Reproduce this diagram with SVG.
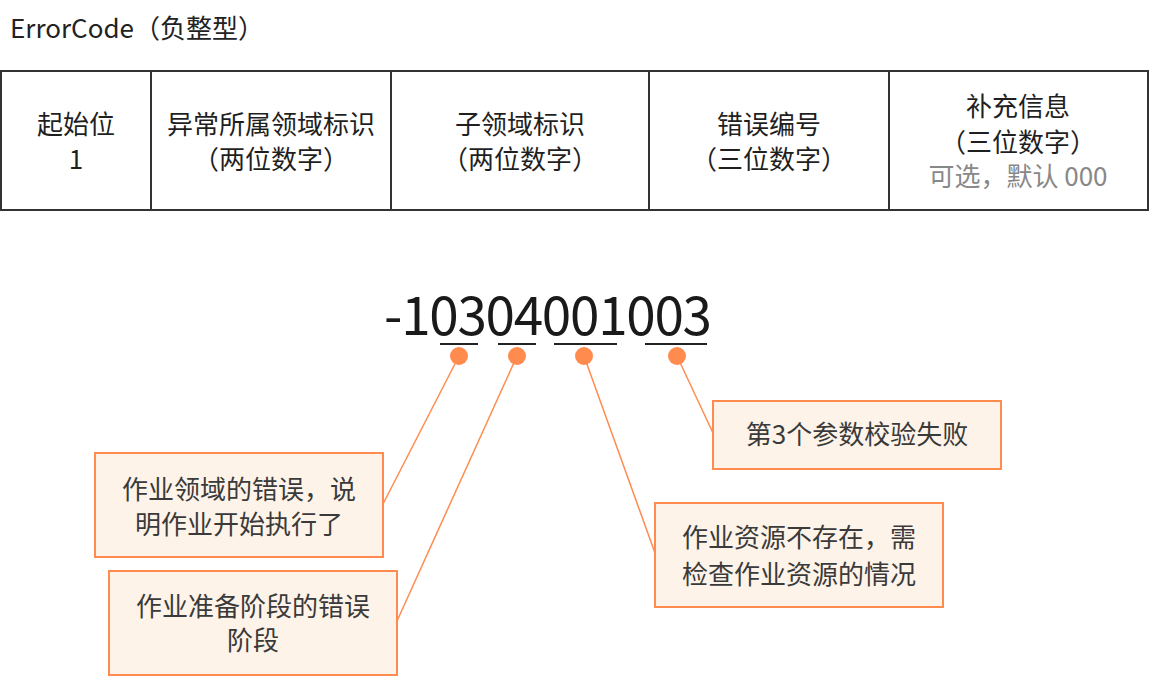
<svg xmlns="http://www.w3.org/2000/svg" width="1152" height="686" viewBox="0 0 1152 686">
<style>
text{font-family:"Noto Sans CJK SC","Noto Sans",sans-serif;font-weight:400;}
.title{font-size:26px;fill:#222;}
.cell{font-size:26px;fill:#1f1f1f;text-anchor:middle;}
.gray{fill:#888;}
.tbl{fill:none;stroke:#333;stroke-width:2;}
.num{font-size:53px;fill:#1a1a1a;}
.ul{stroke:#222;stroke-width:2;}
.dot{fill:#FF8B4F;}
.conn{stroke:#FF8B4F;stroke-width:1.5;fill:none;}
.box{fill:#FEF3E8;stroke:#FF8B4F;stroke-width:2;}
.note{font-size:26px;fill:#3a3a3a;text-anchor:middle;}
</style>
<rect width="1152" height="686" fill="#fff"/>
<text class="title" x="10" y="38">ErrorCode（负整型）</text>

<g id="table">
<rect class="tbl" x="1" y="71" width="1147" height="139"/>
<line class="tbl" x1="151" y1="71" x2="151" y2="210"/>
<line class="tbl" x1="391" y1="71" x2="391" y2="210"/>
<line class="tbl" x1="649" y1="71" x2="649" y2="210"/>
<line class="tbl" x1="889" y1="71" x2="889" y2="210"/>
</g>
<g id="cell1"><text class="cell" x="76" y="134">起始位</text><text class="cell" x="76" y="169">1</text></g>
<g id="cell2"><text class="cell" x="271" y="134">异常所属领域标识</text><text class="cell" x="271" y="169">（两位数字）</text></g>
<g id="cell3"><text class="cell" x="520" y="134">子领域标识</text><text class="cell" x="520" y="169">（两位数字）</text></g>
<g id="cell4"><text class="cell" x="769" y="134">错误编号</text><text class="cell" x="769" y="169">（三位数字）</text></g>
<g id="cell5"><text class="cell" x="1018" y="116">补充信息</text><text class="cell" x="1018" y="152">（三位数字）</text><text class="cell gray" x="1018" y="186">可选，默认 000</text></g>

<g id="code">
<text class="num" x="384" y="335" textLength="328" lengthAdjust="spacing">-10304001003</text>
<line class="ul" x1="440" y1="344" x2="478" y2="344"/>
<line class="ul" x1="498" y1="344" x2="536" y2="344"/>
<line class="ul" x1="554" y1="344" x2="617" y2="344"/>
<line class="ul" x1="645" y1="344" x2="707" y2="344"/>
</g>

<g id="connectors">
<line class="conn" x1="459" y1="356" x2="383" y2="504"/>
<line class="conn" x1="517" y1="356" x2="397" y2="621"/>
<line class="conn" x1="584" y1="356" x2="655" y2="553"/>
<line class="conn" x1="677" y1="356" x2="713" y2="433"/>
<circle class="dot" cx="459" cy="356" r="9"/>
<circle class="dot" cx="517" cy="356" r="9"/>
<circle class="dot" cx="584" cy="356" r="9"/>
<circle class="dot" cx="677" cy="356" r="9"/>
</g>

<g id="note1"><rect class="box" x="95" y="453" width="288" height="104"/>
<text class="note" x="239" y="499">作业领域的错误，说</text><text class="note" x="239" y="534">明作业开始执行了</text></g>
<g id="note2"><rect class="box" x="109" y="571" width="288" height="104"/>
<text class="note" x="253" y="616">作业准备阶段的错误</text><text class="note" x="253" y="650">阶段</text></g>
<g id="note3"><rect class="box" x="655" y="503" width="288" height="104"/>
<text class="note" x="799" y="547">作业资源不存在，需</text><text class="note" x="799" y="584">检查作业资源的情况</text></g>
<g id="note4"><rect class="box" x="713" y="401" width="288" height="68"/>
<text class="note" x="857" y="444">第3个参数校验失败</text></g>
</svg>
